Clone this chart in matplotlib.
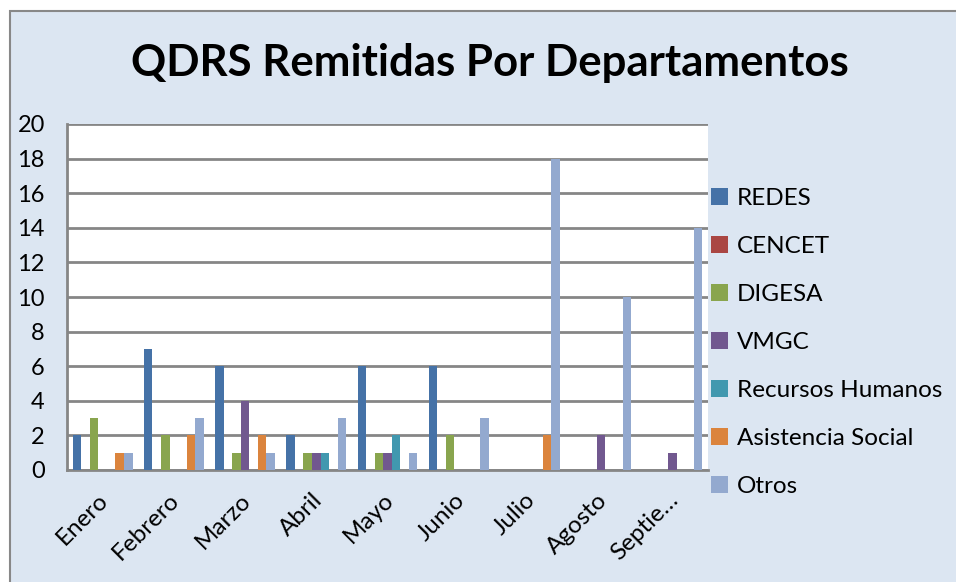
import matplotlib.pyplot as plt
import numpy as np
from matplotlib.patches import Rectangle
from matplotlib.transforms import ScaledTranslation

# data
meses = ['Enero', 'Febrero', 'Marzo', 'Abril', 'Mayo', 'Junio', 'Julio', 'Agosto', 'Septie…']
redes = [2, 7, 6, 2, 6, 6, 0, 0, 0]
cencet = [0, 0, 0, 0, 0, 0, 0, 0, 0]
digesa = [3, 2, 1, 1, 1, 2, 0, 0, 0]
vmgc = [0, 0, 4, 1, 1, 0, 0, 2, 1]
rrhh = [0, 0, 0, 1, 2, 0, 0, 0, 0]
asistencia = [1, 2, 2, 0, 0, 0, 2, 0, 0]
otros = [1, 3, 1, 3, 1, 3, 18, 10, 14]

series = [('REDES', redes, '#4572A7'),
          ('CENCET', cencet, '#AA4643'),
          ('DIGESA', digesa, '#89A54E'),
          ('VMGC', vmgc, '#71588F'),
          ('Recursos Humanos', rrhh, '#4198AF'),
          ('Asistencia Social', asistencia, '#DB843D'),
          ('Otros', otros, '#93A9CF')]

bg = '#DCE6F2'
grid_c = '#868686'
plt.rcParams['font.family'] = ['Lato', 'DejaVu Sans']

fig = plt.figure(figsize=(9.56, 5.82), dpi=100)
fig.patch.set_facecolor('white')
fig.patches.append(Rectangle((10/956, -0.01), 1.0, 1 - 11/582 + 0.01, transform=fig.transFigure,
                             facecolor=bg, edgecolor='#888888', linewidth=1.5, zorder=-1))

ax = fig.add_axes([67/956, 1 - 470/582, 641/956, 346/582])
ax.set_facecolor('white')

x = np.arange(len(meses))
n = len(series)
w = 0.84 / n
handles = []
for i, (name, vals, col) in enumerate(series):
    b = ax.bar(x - 0.42 + w * (i + 0.5), vals, w, color=col, label=name, zorder=3)
    handles.append(b)

ax.set_xlim(-0.5, len(meses) - 0.5)
ax.set_ylim(0, 20)
ax.set_yticks(range(0, 21, 2))
ax.yaxis.grid(True, color=grid_c, linewidth=2, zorder=1)
ax.tick_params(axis='y', length=0, labelsize=17, pad=16)
ax.tick_params(axis='x', length=0, labelsize=17.5, pad=14)
ax.set_xticks(x)
ax.set_xticklabels(meses, rotation=45, ha='right', rotation_mode='anchor')
shift = ScaledTranslation(-5/100, 0, fig.dpi_scale_trans)
for lbl in ax.get_xticklabels():
    lbl.set_transform(lbl.get_transform() + shift)
for s in ['top', 'right']:
    ax.spines[s].set_visible(False)
for s in ['left', 'bottom']:
    ax.spines[s].set_color(grid_c)
    ax.spines[s].set_linewidth(2)

fig.text(490/956, 1 - 63/582, 'QDRS Remitidas Por Departamentos', ha='center', va='center',
         fontsize=31.5, fontweight='bold')

leg = fig.legend(handles=handles, loc='upper left', bbox_to_anchor=(694/956, 1 - 171/582),
                 frameon=False, fontsize=17.5, handlelength=0.7, handleheight=0.7,
                 handletextpad=0.35, labelspacing=1.11, borderpad=0.2)

fig.savefig('out.png', dpi=100, facecolor=fig.get_facecolor())
